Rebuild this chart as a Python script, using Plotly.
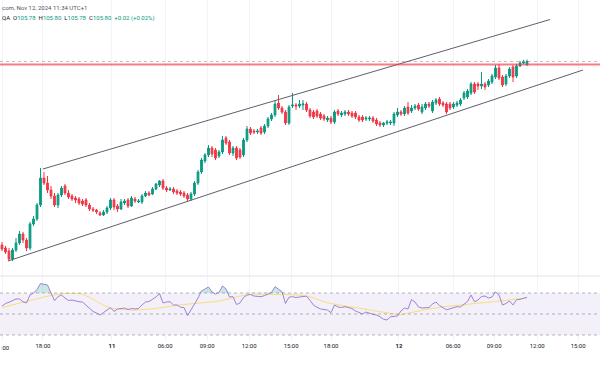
import plotly.graph_objects as go

opens = [105.070,105.058,105.046,105.014,105.050,105.078,105.114,105.090,105.058,105.154,
105.174,105.230,105.338,105.318,105.290,105.266,105.230,105.270,105.306,105.278,
105.266,105.258,105.254,105.246,105.250,105.230,105.214,105.210,105.198,105.190,
105.202,105.218,105.250,105.226,105.214,105.238,105.250,105.226,105.254,105.242,
105.242,105.266,105.278,105.274,105.294,105.310,105.326,105.298,105.290,105.294,
105.286,105.282,105.278,105.270,105.254,105.274,105.318,105.362,105.406,105.430,
105.458,105.450,105.426,105.442,105.498,105.482,105.438,105.458,105.450,105.430,
105.490,105.534,105.526,105.522,105.538,105.522,105.546,105.574,105.590,105.638,
105.618,105.602,105.558,105.626,105.630,105.626,105.630,105.634,105.610,105.602,
105.606,105.594,105.586,105.570,105.578,105.562,105.606,105.590,105.594,105.602,
105.598,105.598,105.582,105.582,105.574,105.574,105.578,105.570,105.558,105.550,
105.558,105.558,105.558,105.590,105.602,105.594,105.622,105.606,105.618,105.630,
105.602,105.618,105.634,105.606,105.638,105.654,105.638,105.634,105.634,105.622,
105.630,105.634,105.658,105.662,105.678,105.714,105.714,105.706,105.714,105.710,
105.722,105.742,105.778,105.742,105.714,105.746,105.782,105.746,105.786,105.798,
105.790]

closes = [105.054,105.042,105.014,105.050,105.078,105.114,105.090,105.058,105.154,105.174,
105.230,105.338,105.318,105.290,105.266,105.230,105.270,105.298,105.278,105.262,
105.254,105.250,105.238,105.234,105.230,105.214,105.210,105.202,105.190,105.202,
105.218,105.250,105.222,105.214,105.242,105.246,105.226,105.258,105.246,105.246,
105.266,105.278,105.270,105.294,105.314,105.326,105.298,105.290,105.294,105.282,
105.278,105.274,105.266,105.254,105.274,105.318,105.362,105.410,105.430,105.458,
105.434,105.418,105.442,105.490,105.478,105.438,105.458,105.418,105.422,105.490,
105.534,105.518,105.522,105.526,105.518,105.546,105.574,105.590,105.634,105.618,
105.602,105.558,105.622,105.630,105.626,105.634,105.634,105.610,105.586,105.582,
105.586,105.578,105.574,105.578,105.562,105.602,105.594,105.598,105.602,105.594,
105.586,105.582,105.570,105.570,105.578,105.578,105.566,105.554,105.550,105.558,
105.562,105.562,105.594,105.602,105.594,105.618,105.598,105.618,105.626,105.614,
105.622,105.634,105.626,105.642,105.650,105.634,105.630,105.602,105.618,105.634,
105.638,105.650,105.678,105.686,105.714,105.682,105.706,105.714,105.702,105.726,
105.746,105.778,105.738,105.710,105.746,105.774,105.742,105.786,105.798,105.802,
105.804]

highs = [105.082,105.066,105.058,105.058,105.098,105.126,105.122,105.098,105.162,105.186,
105.238,105.378,105.362,105.346,105.306,105.278,105.278,105.306,105.314,105.290,
105.274,105.266,105.262,105.254,105.258,105.238,105.222,105.214,105.206,105.210,
105.226,105.258,105.258,105.234,105.254,105.254,105.258,105.266,105.262,105.254,
105.274,105.286,105.286,105.302,105.318,105.330,105.334,105.306,105.302,105.302,
105.294,105.290,105.286,105.278,105.282,105.326,105.370,105.418,105.438,105.470,
105.466,105.458,105.450,105.506,105.506,105.490,105.466,105.466,105.458,105.498,
105.546,105.542,105.534,105.534,105.546,105.554,105.582,105.598,105.646,105.670,
105.626,105.610,105.630,105.678,105.638,105.650,105.650,105.642,105.618,105.610,
105.614,105.602,105.594,105.586,105.586,105.610,105.614,105.606,105.610,105.610,
105.606,105.606,105.590,105.590,105.586,105.586,105.586,105.578,105.566,105.562,
105.570,105.570,105.602,105.618,105.610,105.626,105.642,105.630,105.634,105.638,
105.634,105.642,105.642,105.650,105.658,105.662,105.646,105.642,105.642,105.642,
105.646,105.658,105.686,105.694,105.722,105.722,105.722,105.762,105.722,105.734,
105.754,105.790,105.794,105.750,105.754,105.782,105.790,105.794,105.806,105.810,
105.812]

lows = [105.046,105.034,105.006,105.006,105.042,105.070,105.078,105.046,105.050,105.146,
105.166,105.222,105.310,105.278,105.254,105.222,105.218,105.262,105.270,105.254,
105.246,105.238,105.230,105.226,105.222,105.206,105.202,105.194,105.186,105.186,
105.194,105.210,105.210,105.202,105.210,105.230,105.218,105.222,105.238,105.238,
105.234,105.262,105.266,105.270,105.290,105.302,105.290,105.282,105.286,105.274,
105.270,105.266,105.258,105.246,105.246,105.266,105.310,105.354,105.398,105.422,
105.422,105.410,105.418,105.434,105.470,105.430,105.426,105.410,105.414,105.422,
105.482,105.510,105.514,105.514,105.510,105.514,105.538,105.566,105.582,105.610,
105.594,105.550,105.550,105.618,105.610,105.618,105.610,105.602,105.578,105.574,
105.578,105.570,105.566,105.562,105.554,105.554,105.586,105.582,105.586,105.586,
105.578,105.574,105.562,105.562,105.566,105.566,105.558,105.546,105.542,105.542,
105.550,105.550,105.546,105.582,105.586,105.586,105.590,105.598,105.610,105.606,
105.594,105.610,105.618,105.598,105.630,105.626,105.622,105.594,105.610,105.614,
105.622,105.626,105.650,105.654,105.670,105.674,105.690,105.694,105.690,105.702,
105.714,105.734,105.730,105.702,105.706,105.738,105.722,105.738,105.782,105.794,
105.788]

rsi = [57.6,60.0,61.2,62.9,64.3,64.3,61.7,60.5,68.1,70.0,
73.3,79.0,78.1,77.6,70.0,62.7,66.5,68.1,65.2,62.9,
63.3,62.4,61.7,61.4,58.6,55.7,52.4,51.0,49.0,51.4,
53.8,56.0,52.4,54.8,55.2,55.7,54.3,55.2,54.8,55.2,
58.6,61.4,61.9,64.3,66.2,69.5,60.5,61.4,61.7,58.6,
58.6,56.4,56.2,48.4,53.5,59.5,65.2,71.9,73.8,75.7,
71.0,69.0,70.5,76.7,73.8,66.2,66.5,59.0,60.5,65.7,
68.1,68.6,67.1,67.1,66.5,67.5,69.0,70.5,76.0,73.5,
71.2,60.0,66.0,66.5,65.7,66.2,66.5,67.0,63.0,58.5,
56.4,54.8,54.3,53.8,51.2,58.6,56.7,56.2,57.0,56.4,
55.2,52.9,51.4,50.0,51.9,50.5,49.7,49.0,47.4,45.0,
44.3,47.4,47.4,48.1,52.9,55.7,54.8,63.8,61.4,56.7,
55.7,55.7,56.2,59.5,61.4,58.1,56.4,54.0,55.0,55.7,
57.0,56.7,59.5,61.9,68.1,61.7,63.3,66.7,67.1,65.2,
66.2,71.0,68.1,58.6,60.0,62.4,58.6,63.5,64.0,65.0,
65.9]

rsi_ma = [56.2,57.0,57.8,58.5,59.2,59.9,60.7,61.6,62.5,63.4,
64.4,65.4,66.3,67.0,67.7,68.4,68.9,69.3,69.6,69.7,
69.7,69.6,69.5,68.8,67.5,66.2,64.2,62.0,60.0,58.5,
57.0,55.7,55.0,54.6,54.3,54.1,53.9,53.8,53.8,53.9,
54.1,54.3,54.5,54.9,55.4,56.0,56.6,57.0,57.5,57.9,
58.3,58.7,59.0,59.3,59.5,59.7,59.9,60.1,60.5,61.0,
61.5,61.9,62.4,63.2,64.2,65.2,65.9,66.6,67.3,67.9,
68.5,69.0,68.9,68.7,68.5,68.3,68.4,68.5,68.6,68.7,
68.8,68.7,68.5,68.3,68.2,68.1,67.6,67.0,66.5,65.2,
63.9,62.8,61.7,60.7,60.0,59.4,58.8,58.2,57.6,57.1,
56.6,56.0,55.5,54.9,54.3,53.8,53.4,52.8,52.2,51.7,
51.1,50.6,50.0,49.4,49.2,50.0,50.8,51.6,52.4,53.0,
53.5,54.2,54.8,55.4,56.0,56.5,57.0,57.3,57.6,57.9,
58.2,58.5,58.8,59.1,59.4,59.7,60.0,60.3,60.6,60.9,
61.2,61.5,61.8,62.3,62.9,63.5,64.0,64.4,64.8,65.1,
65.4]

tick_pos = [0, 11.7, 31.4, 46.6, 58.6, 70.6, 82.6, 94.0, 113.4, 128.9, 140.6, 152.9, 164.6]
tick_text = ["", "18:00", "<b>11</b>", "06:00", "09:00", "12:00", "15:00", "18:00",
             "<b>12</b>", "06:00", "09:00", "12:00", "15:00"]
edge_label = ":00"  # visible part of the first "15:00" label at the left edge

upper_x = [11.7, 156.6]
upper_y = [105.374, 105.972]
lower_x = [1.7, 166.0]
lower_y = [105.006, 105.770]
resistance = 105.792
last_price = 105.804
rsi_levels = [70, 50, 30]

bars = list(range(len(closes)))
GREEN = "#089981"
RED = "#F23645"

fig = go.Figure()
fig.add_trace(go.Candlestick(
    x=bars, open=opens, high=highs, low=lows, close=closes,
    increasing=dict(line=dict(color=GREEN, width=1), fillcolor=GREEN),
    decreasing=dict(line=dict(color=RED, width=1), fillcolor=RED),
    whiskerwidth=0, xaxis="x", yaxis="y", showlegend=False, hoverinfo="skip"))

for xs, ys in [(upper_x, upper_y), (lower_x, lower_y)]:
    fig.add_trace(go.Scatter(x=xs, y=ys, mode="lines", line=dict(color="#5d606b", width=1),
                             xaxis="x", yaxis="y", showlegend=False, hoverinfo="skip"))

# RSI pane
fig.add_trace(go.Scatter(x=bars, y=[70] * len(bars), mode="lines", line=dict(width=0),
                         xaxis="x2", yaxis="y2", showlegend=False, hoverinfo="skip"))
fig.add_trace(go.Scatter(x=bars, y=[max(v, 70) for v in rsi], mode="lines", line=dict(width=0),
                         fill="tonexty", fillcolor="rgba(8,153,129,0.22)",
                         xaxis="x2", yaxis="y2", showlegend=False, hoverinfo="skip"))
fig.add_trace(go.Scatter(x=bars, y=rsi_ma, mode="lines", line=dict(color="#F8DE7E", width=1),
                         xaxis="x2", yaxis="y2", showlegend=False, hoverinfo="skip"))
fig.add_trace(go.Scatter(x=bars, y=rsi, mode="lines", line=dict(color="#9C84D6", width=1),
                         xaxis="x2", yaxis="y2", showlegend=False, hoverinfo="skip"))

shapes = [
    dict(type="rect", xref="paper", x0=0, x1=1, yref="y2", y0=30, y1=70,
         fillcolor="rgba(126,87,194,0.09)", line=dict(width=0), layer="below"),
    dict(type="line", xref="paper", x0=0, x1=1, yref="y", y0=resistance, y1=resistance,
         line=dict(color="rgba(242,54,69,0.65)", width=2)),
    dict(type="line", xref="paper", x0=0, x1=1, yref="y", y0=last_price, y1=last_price,
         line=dict(color="rgba(120,123,134,0.45)", width=1, dash="dot")),
    dict(type="line", xref="paper", x0=0, x1=1, yref="paper", y0=(370 - 276) / 370, y1=(370 - 276) / 370,
         line=dict(color="#e0e3eb", width=1)),
]
for lv in rsi_levels:
    shapes.append(dict(type="line", xref="paper", x0=0, x1=1, yref="y2", y0=lv, y1=lv,
                       line=dict(color="rgba(120,123,134,0.55)", width=1, dash="dot")))

xr = [-2 / 3.5, 598 / 3.5]
fig.update_layout(
    width=600, height=370, margin=dict(l=0, r=0, t=0, b=0, autoexpand=False),
    paper_bgcolor="white", plot_bgcolor="white",
    font=dict(family="Roboto, sans-serif", color="#131722", size=6),
    xaxis=dict(domain=[0, 1], range=xr, tickvals=tick_pos, showticklabels=False,
               showgrid=True, gridcolor="#f0f3fa", zeroline=False, rangeslider=dict(visible=False),
               fixedrange=True),
    yaxis=dict(domain=[(370 - 275) / 370, 1], range=[104.95, 106.05], showgrid=False,
               showticklabels=False, zeroline=False),
    xaxis2=dict(domain=[0, 1], range=xr, tickvals=tick_pos, ticktext=tick_text, anchor="y2",
                showgrid=True, gridcolor="#f0f3fa", zeroline=False, ticks="",
                tickfont=dict(size=6, color="#131722")),
    yaxis2=dict(domain=[(370 - 341) / 370, (370 - 276) / 370], range=[24.29, 86.19],
                showgrid=False, showticklabels=False, zeroline=False, anchor="x2"),
    shapes=shapes,
    annotations=[
        dict(x=0, y=1 - 7 / 370, xref="paper", yref="paper", xanchor="left", yanchor="middle",
             showarrow=False, text="com, Nov 12, 2024 11:34 UTC+1",
             font=dict(size=6, color="#50535e")),
        dict(x=0, y=1 - 18 / 370, xref="paper", yref="paper", xanchor="left", yanchor="middle",
             showarrow=False,
             text=("QA  O<span style='color:#089981'>105.78</span>  H<span style='color:#089981'>105.80</span>"
                   "  L<span style='color:#089981'>105.78</span>  C<span style='color:#089981'>105.80</span>"
                   "  <span style='color:#089981'>+0.02 (+0.02%)</span>"),
             font=dict(size=6, color="#131722")),
        dict(x=0, y=1 - 347 / 370, xref="paper", yref="paper", xanchor="left", yanchor="middle",
             showarrow=False, text=edge_label, xshift=-1,
             font=dict(size=6, color="#131722")),
    ],
)
fig.write_html("out.html", config={"displayModeBar": False},
               post_script="document.body.style.margin='0';")
